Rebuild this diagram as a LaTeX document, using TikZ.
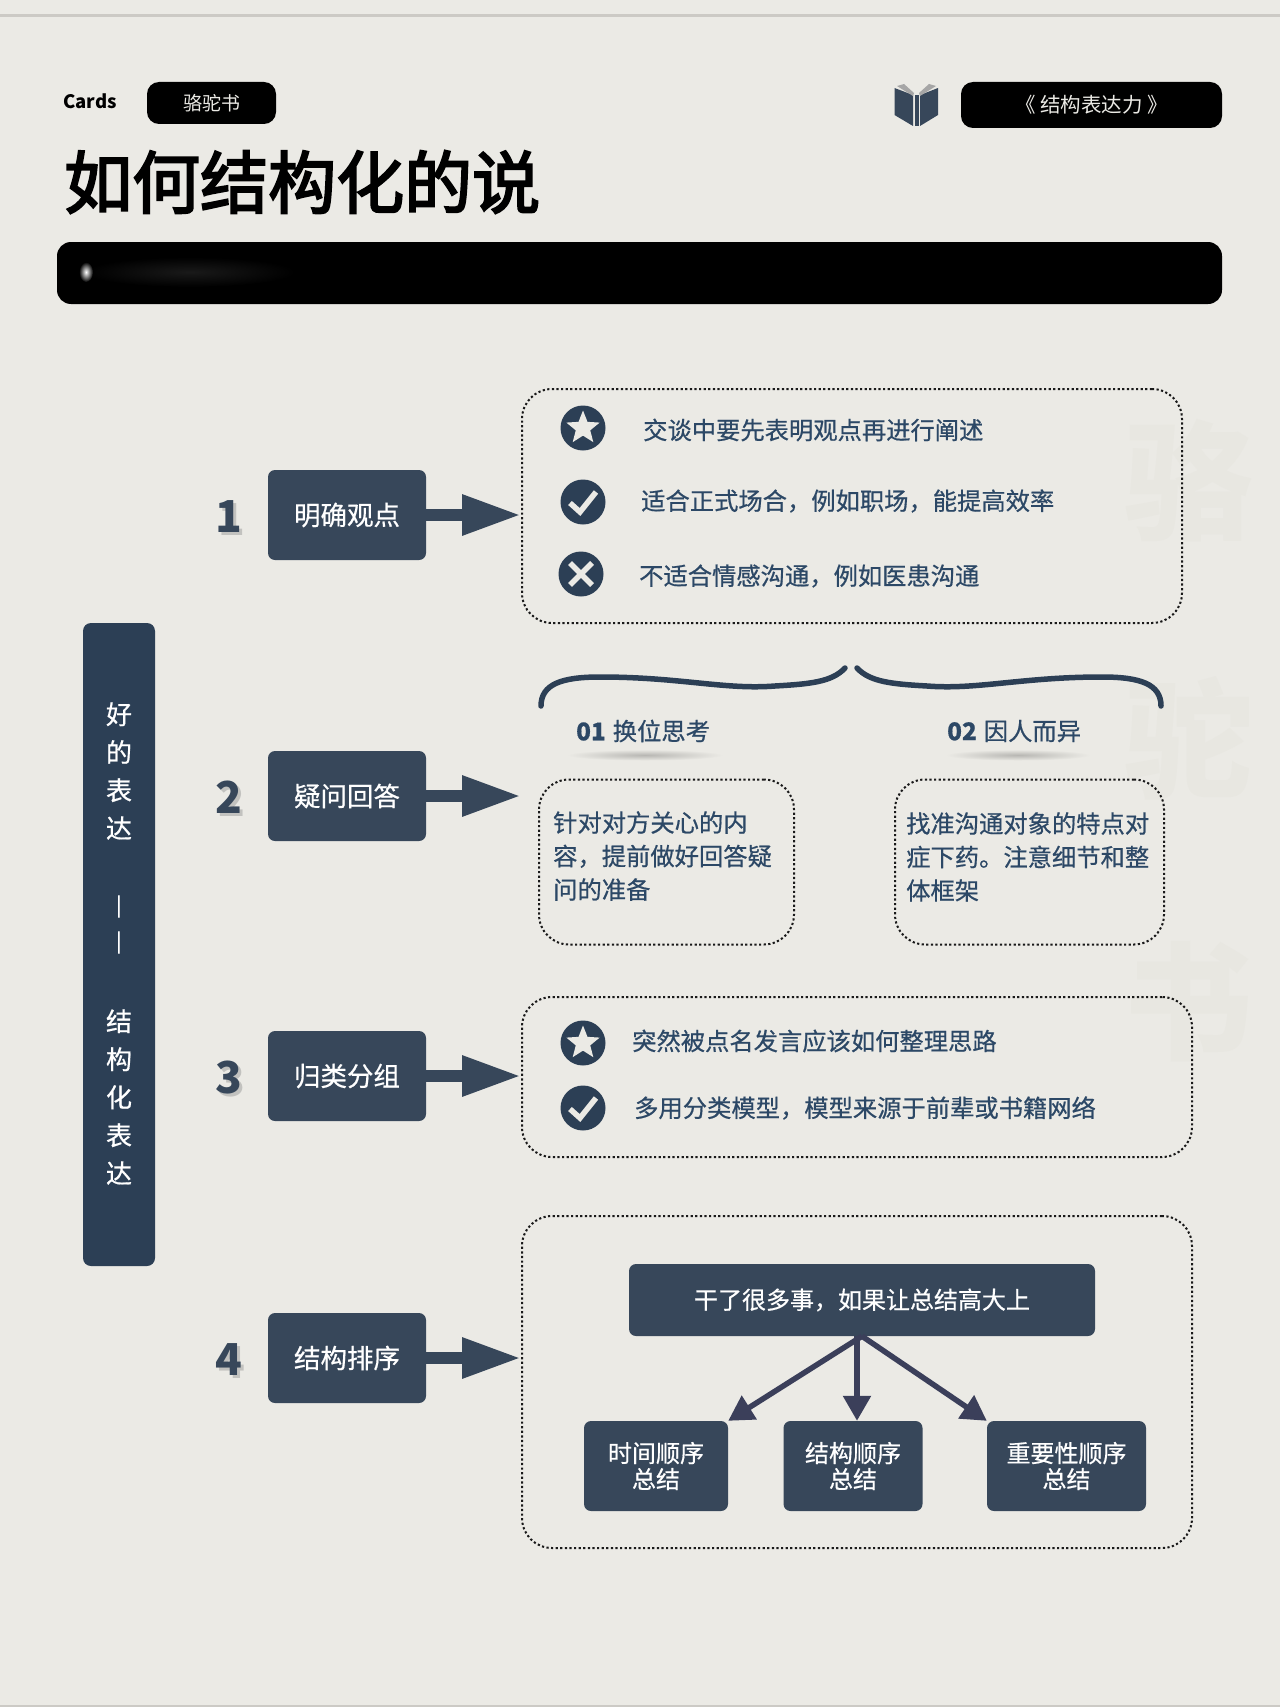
\documentclass[tikz,border=0pt]{standalone}
\usepackage{fontspec}
\setmainfont{Noto Sans CJK SC}
\newfontfamily\cjkmed{Noto Sans CJK SC}[FakeBold=0.6]
\newfontfamily\cjkhead{Noto Sans CJK SC}[FakeBold=3]
\usetikzlibrary{arrows.meta,shapes.geometric,positioning,calc}
\definecolor{paper}{HTML}{EBEAE5}
\definecolor{slate}{HTML}{37475A}
\definecolor{navy}{HTML}{2C3F55}
\definecolor{inkblue}{HTML}{2C4866}
\definecolor{ghost}{HTML}{E8E7E1}
\definecolor{rulegray}{HTML}{CCCAC5}
\definecolor{numshadow}{HTML}{C2C2BF}
\definecolor{fork}{HTML}{3B3F5A}
\newcommand{\shadownum}[1]{\rlap{\textcolor{numshadow}{\kern3pt\raisebox{-3pt}{#1}}}#1}

\begin{document}
\begin{tikzpicture}[x=1pt, y=-1pt, node distance=281pt, auto]
      % Define block styles
      \tikzstyle{pill} = [rectangle, fill=black, rounded corners=12pt, inner sep=0pt, text=paper]
      \tikzstyle{stepbox} = [rectangle, fill=slate, rounded corners=7pt, text=white, inner sep=0pt, minimum width=158pt, minimum height=90pt, font=\cjkmed\fontsize{26.5}{30}\selectfont]
      \tikzstyle{leafbox} = [rectangle, fill=slate, rounded corners=7pt, text=white, inner sep=0pt, minimum height=90pt, align=center, font=\cjkmed\fontsize{24}{26}\selectfont]
      \tikzstyle{dotbox} = [rectangle, draw=black!90, line width=2pt, dash pattern=on 2.2pt off 2.4pt, rounded corners=30pt, inner sep=0pt]
      \tikzstyle{badge} = [circle, fill=navy, minimum size=45pt, inner sep=0pt]
      \tikzstyle{rowtext} = [anchor=west, inner sep=0pt, text=inkblue, font=\cjkmed\fontsize{24.3}{33.5}\selectfont, align=left]
      \tikzstyle{numlabel} = [text=slate, inner sep=0pt, font=\bfseries\fontsize{44}{46}\selectfont]
      \tikzstyle{sidetext} = [text=white, inner sep=0pt, align=center, font=\cjkmed\fontsize{26}{38}\selectfont]
      \tikzstyle{ghosttext} = [text=ghost, inner sep=0pt, font=\bfseries\fontsize{128}{140}\selectfont]
      \tikzstyle{glow} = [ellipse, inner sep=0pt, minimum height=11pt]
      \tikzstyle{line} = [draw=slate, line width=12pt, -{Triangle[length=59pt,width=38pt]}]
      \tikzstyle{forkline} = [draw=fork, line width=5.5pt, -{Triangle[length=25pt,width=27pt]}]
      \tikzstyle{tick} = [draw=paper, line width=5.5pt]
      \tikzstyle{brace} = [draw=navy, line width=5.5pt, line cap=round]

      % Paper and rules
      \fill[paper] (0,0) rectangle (1280,1707);
      \fill[rulegray] (0,14.5) rectangle (1280,17);
      \fill[rulegray] (0,1705) rectangle (1280,1707);

      % Watermark
      \node [ghosttext] (wm1) at (1188,481) {骆};
      \node [ghosttext] (wm2) at (1188,738) {驼};
      \node [ghosttext] (wm3) at (1188,1002) {书};

      % Header
      \node [anchor=west, inner sep=0pt, font=\bfseries\fontsize{18.5}{22}\selectfont] (cards) at (63,101) {Cards};
      \node [pill, minimum width=129pt, minimum height=42pt, font=\fontsize{19}{22}\selectfont] (brand) at (211.5,103) {骆驼书};
      \node [pill, minimum width=261pt, minimum height=46pt, font=\fontsize{20.5}{24}\selectfont] (bookname) at (1091.5,105) {《 结构表达力 》};
      \node [anchor=west, inner sep=0pt, font=\cjkhead\fontsize{68}{72}\selectfont] (title) at (64,182) {如何结构化的说};
      \node [rectangle, fill=black, rounded corners=14pt, minimum width=1165pt, minimum height=62pt, inner sep=0pt] (subbar) at (639.5,273) {};
      \node [ellipse, inner color=black!90!white, outer color=black, minimum width=210pt, minimum height=30pt, inner sep=0pt] (blurtext) at (190,272) {};
      \node [ellipse, inner color=white, outer color=black, minimum width=14pt, minimum height=20pt, inner sep=0pt] (blurdot) at (86,272) {};

      % Book icon
      \fill[slate] (894.5,88) -- (913,95) -- (913,126) -- (894.5,115) -- cycle;
      \fill[slate] (938,88) -- (920,95) -- (920,126) -- (938,115) -- cycle;
      \fill[slate] (914.5,95) rectangle (918.5,126);
      \fill[black!35] (897,86) -- (904,84) -- (914,93) -- (913,96) -- cycle;
      \fill[black!35] (936,86) -- (929,84) -- (919,93) -- (920,96) -- cycle;

      % Place side bar
      \node [rectangle, fill=navy, rounded corners=8pt, minimum width=72pt, minimum height=643pt, inner sep=0pt] (sidebar) at (119,944.5) {};
      \node [sidetext] (sidetop) at (119,771) {好\\的\\表\\达};
      \node [rotate=-90, text=white, inner sep=0pt, font=\fontsize{28}{30}\selectfont] (sidedash) at (115.5,925) {—\kern10pt—};
      \node [sidetext] (sidelow) at (119,1097) {结\\构\\化\\表\\达};

      % Place blocks
      \node [stepbox] (view) at (347,515) {明确观点};
      \node [stepbox, below of=view] (answer) {疑问回答};
      \node [stepbox, below of=answer, node distance=280pt] (group) {归类分组};
      \node [stepbox, below of=group, node distance=282pt] (order) {结构排序};

      \node [numlabel, left of=view, node distance=118pt, yshift=-3pt] (num1) {\shadownum{1}};
      \node [numlabel, left of=answer, node distance=118pt, yshift=-3pt] (num2) {\shadownum{2}};
      \node [numlabel, left of=group, node distance=118pt, yshift=-3pt] (num3) {\shadownum{3}};
      \node [numlabel, left of=order, node distance=118pt, yshift=-3pt] (num4) {\shadownum{4}};

      \node [dotbox, minimum width=660pt, minimum height=234pt] (viewbox) at (852,506) {};
      \node [dotbox, minimum width=255pt, minimum height=165pt] (leftbox) at (666.5,862) {};
      \node [dotbox, minimum width=269pt, minimum height=165pt] (rightbox) at (1029.5,862) {};
      \node [dotbox, minimum width=670pt, minimum height=160pt] (groupbox) at (857,1077) {};
      \node [dotbox, minimum width=670pt, minimum height=332pt] (orderbox) at (857,1382) {};

      % First panel
      \node [badge] (star1) at (583,428) {};
      \node [badge] (ok1) at (583,502) {};
      \node [badge] (no1) at (581,574) {};
      \node [rowtext] (row11) at (643,430) {交谈中要先表明观点再进行阐述};
      \node [rowtext] (row12) at (641,501) {适合正式场合，例如职场，能提高效率};
      \node [rowtext] (row13) at (639,576) {不适合情感沟通，例如医患沟通};

      % Second panel
      \node [glow, inner color=black!22!paper, outer color=paper, minimum width=156pt] (glow1) at (645,755) {};
      \node [glow, inner color=black!22!paper, outer color=paper, minimum width=144pt] (glow2) at (1018,755) {};
      \node [rowtext] (tag1) at (576,731) {{\bfseries 01}\kern7pt 换位思考};
      \node [rowtext] (tag2) at (947,731) {{\bfseries 02}\kern7pt 因人而异};
      \node [rowtext] (text1) at (553,856) {针对对方关心的内\\容，提前做好回答疑\\问的准备};
      \node [rowtext] (text2) at (906,857) {找准沟通对象的特点对\\症下药。注意细节和整\\体框架};
      \coordinate (brace1a) at (541,706);
      \coordinate (brace1b) at (600,677);
      \coordinate (brace1c) at (845,668);
      \coordinate (brace2a) at (1161,706);
      \coordinate (brace2b) at (1102,677);
      \coordinate (brace2c) at (857,668);

      % Third panel
      \node [badge] (star3) at (583,1043) {};
      \node [badge] (ok3) at (583,1108) {};
      \node [rowtext] (row31) at (632,1041) {突然被点名发言应该如何整理思路};
      \node [rowtext] (row32) at (634,1108) {多用分类模型，模型来源于前辈或书籍网络};

      % Fourth panel
      \node [stepbox, minimum width=466pt, minimum height=72pt, font=\cjkmed\fontsize{24}{28}\selectfont] (summary) at (862,1300) {干了很多事，如果让总结高大上};
      \node [leafbox, minimum width=144pt] (timeleaf) at (656,1466) {时间顺序\\总结};
      \node [leafbox, minimum width=139pt] (formleaf) at (853,1466) {结构顺序\\总结};
      \node [leafbox, minimum width=159pt] (rankleaf) at (1066.5,1466) {重要性顺序\\总结};

      % Badge marks
      \node [star, star points=5, star point ratio=2.3, fill=paper, minimum size=35pt, inner sep=0pt] (star1in) at (star1) {};
      \node [star, star points=5, star point ratio=2.3, fill=paper, minimum size=35pt, inner sep=0pt] (star3in) at (star3) {};
      \draw [tick] ($(ok1)+(-13,1)$) -- ($(ok1)+(-3,10)$) -- ($(ok1)+(13,-10)$);
      \draw [tick] ($(ok3)+(-13,1)$) -- ($(ok3)+(-3,10)$) -- ($(ok3)+(13,-10)$);
      \draw [tick] ($(no1)+(-11,-11)$) -- ($(no1)+(11,11)$);
      \draw [tick] ($(no1)+(11,-11)$) -- ($(no1)+(-11,11)$);

      % Draw lines
      \path [line] (view.east) -- (view.east -| viewbox.west);
      \path [line] (answer.east) -- (answer.east -| viewbox.west);
      \path [line] (group.east) -- (group.east -| groupbox.west);
      \path [line] (order.east) -- (order.east -| orderbox.west);
      \path [forkline] (summary.south) -- (timeleaf.north east);
      \path [forkline] ([xshift=-5pt]summary.south) -- ([xshift=4pt]formleaf.north);
      \path [forkline] (summary.south) -- (rankleaf.north west);
      \path [brace] (brace1a) .. controls (541,684) and (562,677) .. (brace1b) .. controls (680,677) and (725,690) .. (775,686) .. controls (810,684) and (832,682) .. (brace1c);
      \path [brace] (brace2a) .. controls (1161,684) and (1140,677) .. (brace2b) .. controls (1022,677) and (977,690) .. (927,686) .. controls (892,684) and (870,682) .. (brace2c);
    \end{tikzpicture}
\end{document}
